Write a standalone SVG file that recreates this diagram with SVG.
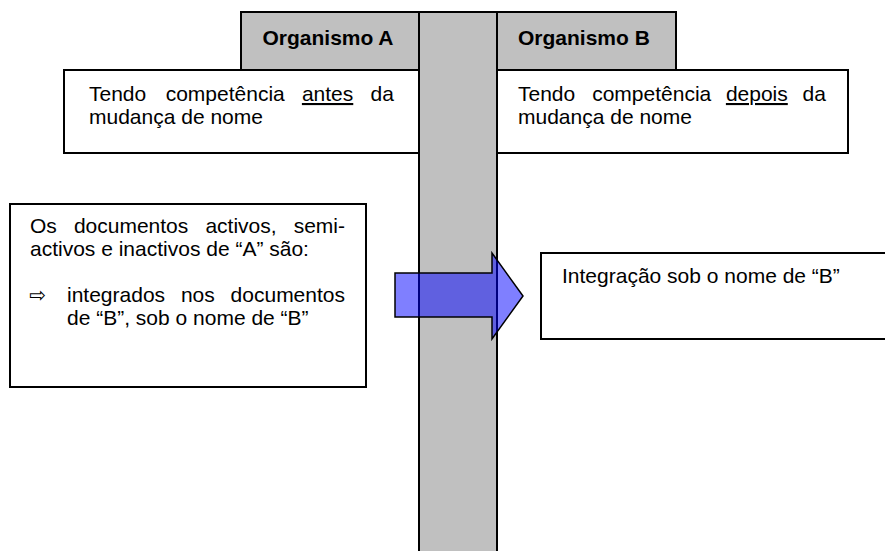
<svg xmlns="http://www.w3.org/2000/svg" width="885" height="551" viewBox="0 0 885 551">
<style>
.box{fill:#fff;stroke:#000;stroke-width:2}
.hdr{fill:#c0c0c0;stroke:#000;stroke-width:2}
.t{font-family:"Liberation Sans",Arial,sans-serif;font-size:21px;fill:#000}
.b{font-family:"Liberation Sans",Arial,sans-serif;font-size:21px;font-weight:bold;fill:#000}
.u{text-decoration:underline}
</style>
<rect width="885" height="551" fill="#fff"/>
<g id="headerA"><rect class="hdr" x="241" y="12" width="178" height="58"/><text class="b" x="328" y="45" text-anchor="middle">Organismo A</text></g>
<g id="headerB"><rect class="hdr" x="497" y="12" width="179" height="58"/><text class="b" x="518" y="45">Organismo B</text></g>
<g id="boxA"><rect class="box" x="64" y="70" width="355" height="83"/>
<text class="t" y="101"><tspan x="89">Tendo</tspan><tspan x="165.7">competência</tspan><tspan x="301.9" class="u">antes</tspan><tspan x="370.5">da</tspan></text>
<text class="t" x="89" y="124">mudança de nome</text></g>
<g id="boxB"><rect class="box" x="497" y="70" width="351" height="83"/>
<text class="t" y="101"><tspan x="518">Tendo</tspan><tspan x="592.2">competência</tspan><tspan x="725.9" class="u">depois</tspan><tspan x="802.5">da</tspan></text>
<text class="t" x="518" y="124">mudança de nome</text></g>
<g id="bar"><rect class="hdr" x="419" y="12" width="78" height="545"/></g>
<g id="boxDocs"><rect class="box" x="10" y="204" width="356" height="183"/>
<text class="t" y="233"><tspan x="30">Os</tspan><tspan x="73.9">documentos</tspan><tspan x="205.4">activos,</tspan><tspan x="293.7">semi-</tspan></text>
<text class="t" x="30" y="256">activos e inactivos de “A” são:</text>
<text class="t" x="29" y="302" style="font-size:20px;font-family:'DejaVu Sans',sans-serif">⇨</text>
<text class="t" y="302"><tspan x="67">integrados</tspan><tspan x="180.9">nos</tspan><tspan x="230.6">documentos</tspan></text>
<text class="t" x="67" y="325">de “B”, sob o nome de “B”</text></g>
<g id="boxInt"><rect class="box" x="541" y="253" width="350" height="86"/>
<text class="t" x="562" y="283">Integração sob o nome de “B”</text></g>
<g id="connectors"><path d="M395,273 H492 V253 L523,296 L492,339 V317 H395 Z" fill="#0000ff" fill-opacity="0.5" stroke="#000" stroke-width="1.5"/></g>
</svg>
